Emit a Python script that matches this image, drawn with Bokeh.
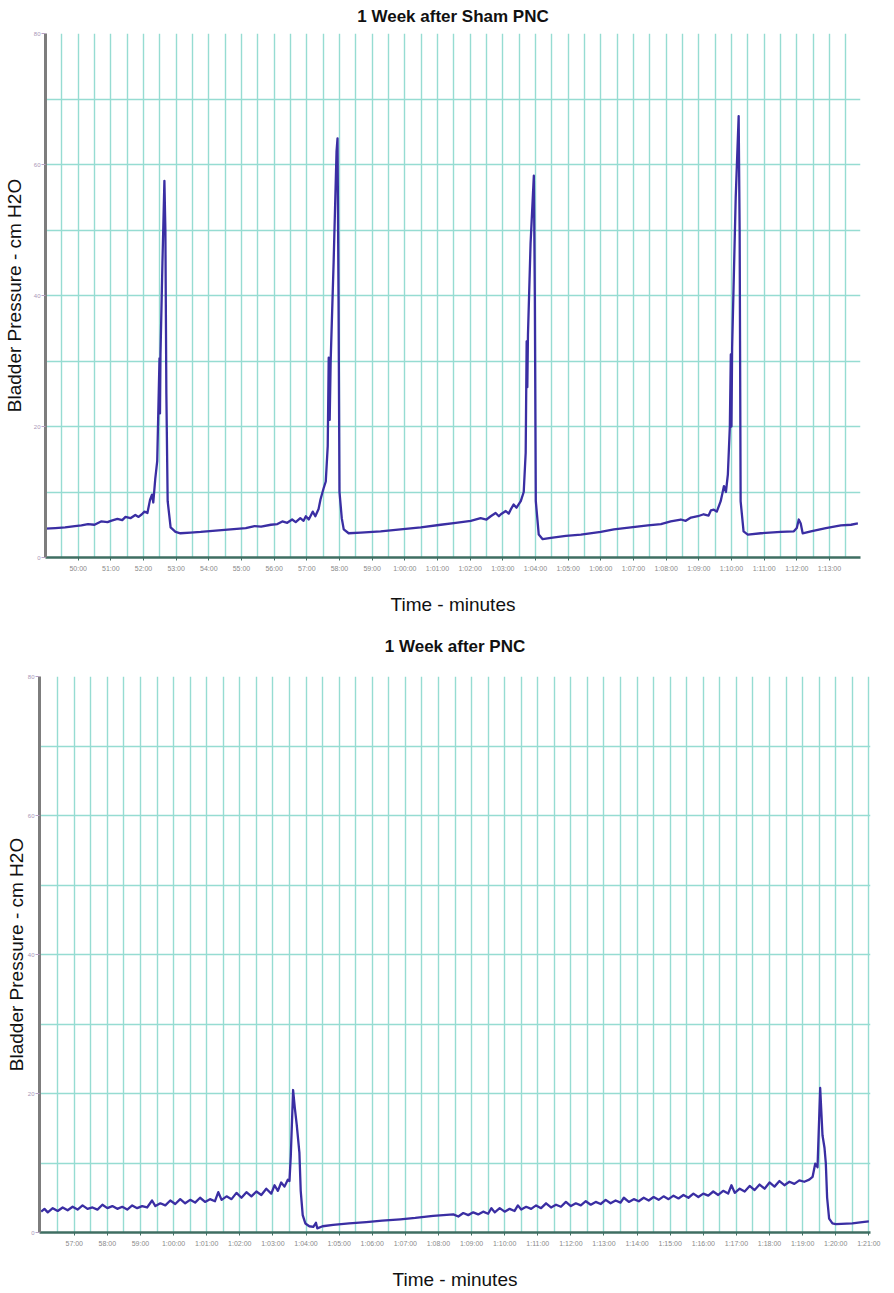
from bokeh.plotting import figure
from bokeh.models import FixedTicker, Range1d, ColumnDataSource
from bokeh.embed import file_html
from bokeh.resources import INLINE

# ---------------- data ----------------
sham_time = [49.00, 49.3, 49.6, 49.9, 50.1, 50.3, 50.5, 50.7, 50.9, 51.0, 51.2, 51.35, 51.45, 51.6, 51.75,
             51.85, 51.95, 52.03, 52.12, 52.2, 52.26, 52.3, 52.36, 52.42, 52.47, 52.49, 52.505, 52.52, 52.58,
             52.64, 52.67, 52.70, 52.74, 52.83, 52.98, 53.13, 53.44, 53.75, 54.21, 54.67, 55.13, 55.4, 55.6,
             55.9, 56.1, 56.25, 56.4, 56.55, 56.66, 56.8, 56.9, 56.97, 57.06, 57.18, 57.26, 57.36, 57.42,
             57.51, 57.58, 57.64, 57.67, 57.70, 57.73, 57.82, 57.91, 57.94, 57.97, 58.00, 58.07, 58.13, 58.28,
             58.65, 59.26, 59.87, 60.49, 61.10, 61.56, 62.02, 62.32, 62.5, 62.63, 62.78, 62.88, 62.94, 63.09,
             63.18, 63.24, 63.33, 63.42, 63.55, 63.64, 63.70, 63.73, 63.75, 63.77, 63.85, 63.95, 63.98, 64.01,
             64.10, 64.22, 64.47, 64.93, 65.39, 66.00, 66.40, 66.92, 67.44, 67.84, 68.14, 68.45, 68.6, 68.76,
             68.97, 69.15, 69.3, 69.37, 69.46, 69.55, 69.67, 69.77, 69.83, 69.89, 69.95, 69.98, 70.00, 70.02,
             70.13, 70.22, 70.25, 70.28, 70.37, 70.50, 70.90, 71.51, 71.91, 72.00, 72.06, 72.12, 72.18, 72.43,
             72.89, 73.35, 73.66, 73.87]
sham_pressure = [4.4, 4.5, 4.6, 4.8, 4.9, 5.1, 5.0, 5.5, 5.4, 5.6, 5.9, 5.7, 6.2, 6.0, 6.5,
                 6.2, 6.6, 7.0, 6.8, 8.8, 9.6, 8.4, 12.0, 14.7, 26.0, 30.4, 22.0, 31.0, 45.0,
                 57.5, 50.0, 25.0, 8.6, 4.6, 3.9, 3.7, 3.8, 3.9, 4.1, 4.3, 4.5, 4.8, 4.7,
                 5.0, 5.1, 5.5, 5.3, 5.8, 5.4, 6.0, 5.6, 6.3, 5.8, 7.0, 6.3, 7.4, 8.9,
                 10.5, 11.6, 17.0, 30.5, 21.0, 30.0, 45.0, 62.0, 64.0, 40.0, 10.0, 6.0, 4.3, 3.7,
                 3.8, 4.0, 4.3, 4.6, 5.0, 5.3, 5.6, 6.0, 5.8, 6.3, 6.8, 6.3, 6.6, 7.1,
                 6.7, 7.3, 8.1, 7.6, 8.6, 10.0, 16.0, 33.0, 26.0, 34.0, 48.0, 58.3, 40.0, 8.6,
                 3.5, 2.8, 3.0, 3.3, 3.5, 3.9, 4.3, 4.6, 4.9, 5.1, 5.5, 5.8, 5.6, 6.1,
                 6.3, 6.6, 6.4, 7.2, 7.3, 7.0, 8.6, 10.9, 10.0, 12.7, 20.0, 31.0, 20.0, 32.0,
                 55.0, 67.4, 50.0, 8.6, 4.0, 3.5, 3.7, 3.9, 4.0, 4.5, 5.8, 5.2, 3.7, 4.0,
                 4.5, 4.9, 5.0, 5.2]

pnc_time = [56.0, 56.1, 56.2, 56.35, 56.5, 56.65, 56.8, 56.95, 57.1, 57.25, 57.4, 57.55, 57.7, 57.85,
            58.0, 58.15, 58.3, 58.45, 58.6, 58.75, 58.9, 59.05, 59.2, 59.35, 59.45, 59.6, 59.75, 59.9,
            60.05, 60.2, 60.35, 60.5, 60.65, 60.8, 60.95, 61.1, 61.25, 61.35, 61.45, 61.6, 61.75, 61.9,
            62.05, 62.2, 62.35, 62.5, 62.65, 62.8, 62.95, 63.05, 63.15, 63.25, 63.35, 63.45, 63.5, 63.54,
            63.61, 63.66, 63.72, 63.8, 63.84, 63.9, 63.98, 64.1, 64.22, 64.3, 64.34, 64.5, 64.82, 65.3,
            65.82, 66.3, 66.85, 67.3, 67.84, 68.45, 68.6, 68.75, 68.9, 69.05, 69.2, 69.35, 69.5, 69.6,
            69.7, 69.85, 70.0, 70.15, 70.3, 70.4, 70.5, 70.65, 70.8, 70.95, 71.1, 71.25, 71.4, 71.55,
            71.7, 71.85, 72.0, 72.15, 72.3, 72.45, 72.6, 72.75, 72.9, 73.05, 73.2, 73.35, 73.5, 73.6,
            73.75, 73.9, 74.05, 74.2, 74.35, 74.5, 74.65, 74.8, 74.95, 75.1, 75.25, 75.4, 75.55, 75.7,
            75.85, 76.0, 76.15, 76.3, 76.45, 76.6, 76.75, 76.85, 76.95, 77.1, 77.25, 77.4, 77.55, 77.7,
            77.85, 78.0, 78.15, 78.3, 78.45, 78.6, 78.75, 78.9, 79.05, 79.2, 79.3, 79.38, 79.45, 79.53,
            79.6, 79.66, 79.7, 79.74, 79.8, 79.9, 80.0, 80.5, 80.8, 81.0]
pnc_pressure = [3.0, 3.4, 2.9, 3.5, 3.1, 3.6, 3.2, 3.7, 3.3, 3.9, 3.4, 3.6, 3.3, 4.0,
                3.5, 3.8, 3.4, 3.7, 3.3, 3.9, 3.5, 3.8, 3.6, 4.6, 3.8, 4.2, 3.9, 4.6,
                4.1, 4.8, 4.2, 4.7, 4.3, 5.0, 4.4, 4.8, 4.5, 5.8, 4.7, 5.2, 4.8, 5.7,
                5.0, 5.8, 5.2, 5.9, 5.4, 6.3, 5.6, 6.8, 6.0, 7.2, 6.6, 7.6, 7.4, 11.0,
                20.5, 18.0, 15.5, 11.5, 6.0, 2.5, 1.3, 0.9, 0.8, 1.4, 0.6, 0.9, 1.1, 1.3,
                1.5, 1.7, 1.9, 2.1, 2.4, 2.6, 2.3, 2.8, 2.5, 2.9, 2.6, 3.0, 2.7, 3.5,
                2.9, 3.5, 3.0, 3.4, 3.1, 3.9, 3.3, 3.7, 3.4, 3.9, 3.5, 4.2, 3.6, 4.0,
                3.7, 4.4, 3.8, 4.2, 3.9, 4.5, 4.0, 4.4, 4.1, 4.7, 4.2, 4.6, 4.3, 5.0,
                4.4, 4.8, 4.5, 5.0, 4.6, 5.1, 4.7, 5.2, 4.8, 5.3, 4.9, 5.4, 5.0, 5.6,
                5.1, 5.6, 5.3, 5.9, 5.4, 6.0, 5.6, 6.8, 5.7, 6.3, 5.9, 6.7, 6.1, 6.9,
                6.3, 7.2, 6.6, 7.4, 6.8, 7.3, 7.0, 7.5, 7.3, 7.6, 8.0, 9.9, 9.4, 20.8,
                14.0, 12.2, 10.0, 5.0, 2.0, 1.3, 1.2, 1.3, 1.5, 1.6]

sham_tick_minutes = [50, 51, 52, 53, 54, 55, 56, 57, 58, 59, 60, 61, 62, 63, 64, 65, 66, 67, 68, 69, 70, 71, 72, 73]
sham_tick_labels = ["50:00", "51:00", "52:00", "53:00", "54:00", "55:00", "56:00", "57:00", "58:00", "59:00",
                    "1:00:00", "1:01:00", "1:02:00", "1:03:00", "1:04:00", "1:05:00", "1:06:00", "1:07:00",
                    "1:08:00", "1:09:00", "1:10:00", "1:11:00", "1:12:00", "1:13:00"]
pnc_tick_minutes = [57, 58, 59, 60, 61, 62, 63, 64, 65, 66, 67, 68, 69, 70, 71, 72, 73, 74, 75, 76, 77, 78, 79, 80, 81]
pnc_tick_labels = ["57:00", "58:00", "59:00", "1:00:00", "1:01:00", "1:02:00", "1:03:00", "1:04:00", "1:05:00",
                   "1:06:00", "1:07:00", "1:08:00", "1:09:00", "1:10:00", "1:11:00", "1:12:00", "1:13:00",
                   "1:14:00", "1:15:00", "1:16:00", "1:17:00", "1:18:00", "1:19:00", "1:20:00", "1:21:00"]
y_tick_values = [0, 20, 40, 60, 80]
y_tick_labels = ["0", "20", "40", "60", "80"]
y_minor_values = [10, 30, 50, 70]

GRID = "#96dcd2"
TRACE = "#3a2ea3"
FONT = "Liberation Sans"


def make_chart(title, t, pr, ticks, labels, x0, x1, w, h, bl, br, bt, bb, ylab_gap, title_gap):
    p = figure(width=w, height=h, output_backend="svg", toolbar_location=None,
               x_range=Range1d(x0, x1), y_range=Range1d(0, 80),
               min_border_left=bl, min_border_right=br, min_border_top=bt, min_border_bottom=bb)
    p.outline_line_color = None
    p.background_fill_color = "white"
    p.border_fill_color = "white"

    p.title.text = title
    p.title.align = "center"
    p.title.vertical_align = "top"
    p.title.text_font = FONT
    p.title.text_font_size = "17px"
    p.title.text_font_style = "bold"
    p.title.text_color = "#111111"
    p.title.standoff = title_gap

    half = [m + 0.5 for m in ticks] + [ticks[0] - 0.5]
    xt = FixedTicker(ticks=ticks, minor_ticks=half)
    yt = FixedTicker(ticks=y_tick_values, minor_ticks=y_minor_values)
    p.xaxis.ticker = xt
    p.yaxis.ticker = yt
    p.xgrid.ticker = xt
    p.ygrid.ticker = yt
    for g in (p.xgrid[0], p.ygrid[0]):
        g.grid_line_color = GRID
        g.grid_line_width = 1.4
        g.minor_grid_line_color = GRID
        g.minor_grid_line_width = 1.4

    p.xaxis.major_label_overrides = {m: s for m, s in zip(ticks, labels)}
    p.yaxis.major_label_overrides = {v: s for v, s in zip(y_tick_values, y_tick_labels)}

    p.xaxis.axis_label = "Time - minutes"
    p.yaxis.axis_label = "Bladder Pressure - cm H2O"
    for ax in (p.xaxis[0], p.yaxis[0]):
        ax.axis_label_text_font = FONT
        ax.axis_label_text_font_size = "19px"
        ax.axis_label_text_font_style = "normal"
        ax.axis_label_text_color = "#111111"
        ax.major_label_text_font = FONT
        ax.minor_tick_out = 0
        ax.minor_tick_in = 0
        ax.major_tick_in = 0

    p.xaxis.axis_line_color = "#3f6e62"
    p.xaxis.axis_line_width = 2.5
    p.xaxis.major_tick_line_color = "#3f6e62"
    p.xaxis.major_tick_out = 3
    p.xaxis.major_label_text_font_size = "7px"
    p.xaxis.major_label_text_color = "#8a8a8a"
    p.xaxis.major_label_standoff = 4
    p.xaxis.axis_label_standoff = 19

    p.yaxis.axis_line_color = "#7d7d7d"
    p.yaxis.axis_line_width = 3
    p.yaxis.major_tick_line_color = "#b9a3c4"
    p.yaxis.major_tick_out = 4
    p.yaxis.major_label_text_font_size = "6px"
    p.yaxis.major_label_text_color = "#a898b8"
    p.yaxis.major_label_standoff = 1
    p.yaxis.axis_label_standoff = ylab_gap

    src = ColumnDataSource(data=dict(t=t, p=pr))
    p.line("t", "p", source=src, line_color=TRACE, line_width=2.3, line_join="round")
    return p


top = make_chart("1 Week after Sham PNC", sham_time, sham_pressure, sham_tick_minutes, sham_tick_labels,
                 49.0, 73.95, 890, 617, 45, 30, 33, 60, 6, 11)
bottom = make_chart("1 Week after PNC", pnc_time, pnc_pressure, pnc_tick_minutes, pnc_tick_labels,
                    55.95, 81.05, 890, 675, 39, 20, 59, 60, -2, 37)

open("out.html", "w").write(file_html([top, bottom], INLINE))
